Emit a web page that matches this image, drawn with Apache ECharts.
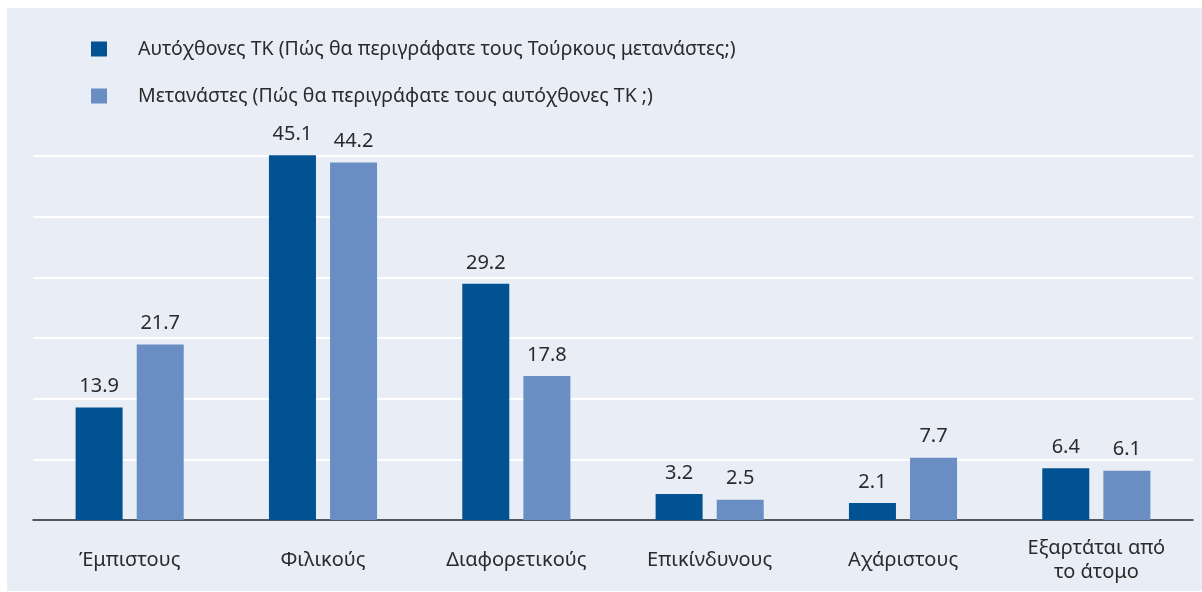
<!DOCTYPE html>
<html>
<head>
<meta charset="utf-8">
<script src="https://cdn.jsdelivr.net/npm/echarts@6/dist/echarts.min.js"></script>
<style>
  html, body { margin: 0; padding: 0; background: #fff; }
  #chart { width: 1202px; height: 592px; }
</style>
</head>
<body>
<div id="chart"></div>
<script>
// categories and values
const categories = ['Έμπιστους', 'Φιλικούς', 'Διαφορετικούς', 'Επικίνδυνους', 'Αχάριστους', 'Εξαρτάται από\nτο άτομο']
const seriesNames = [
  'Αυτόχθονες ΤΚ (Πώς θα περιγράφατε τους Τούρκους μετανάστες;)',
  'Μετανάστες (Πώς θα περιγράφατε τους αυτόχθονες ΤΚ ;)',
]
const natives = [13.9, 45.1, 29.2, 3.2, 2.1, 6.4]
const migrants = [21.7, 44.2, 17.8, 2.5, 7.7, 6.1]

const font = '"Noto Sans", "Open Sans", sans-serif'
const chart = echarts.init(document.getElementById('chart'))

const labelOpt = {
  show: true,
  position: 'top',
  distance: 11,
  color: '#2b2b2b',
  fontSize: 20,
  fontFamily: font,
  formatter: (p) => p.value.toFixed(1),
}

chart.setOption({
  backgroundColor: '#ffffff',
  animation: false,
  graphic: [
    {
      type: 'rect',
      z: -10,
      shape: { x: 7, y: 8, width: 1195, height: 583 },
      style: { fill: '#e9edf6' },
    },
  ],
  legend: {
    orient: 'vertical',
    left: 86,
    top: 34,
    itemWidth: 16,
    itemHeight: 15,
    itemGap: 27,
    icon: 'rect',
    textStyle: {
      color: '#2b2b2b',
      fontSize: 19.5,
      fontFamily: font,
      padding: [0, 0, 0, 26],
    },
    data: seriesNames,
  },
  grid: { left: 33, right: 9, top: 156, bottom: 72 },
  xAxis: {
    type: 'category',
    data: categories,
    axisLine: { lineStyle: { color: '#222', width: 1.5 } },
    axisTick: { show: false },
    axisLabel: {
      color: '#2b2b2b',
      fontSize: 20,
      fontFamily: font,
      margin: 40,
      lineHeight: 24,
      verticalAlign: 'middle',
    },
  },
  yAxis: {
    type: 'value',
    min: 0,
    max: 45,
    interval: 7.5,
    axisLabel: { show: false },
    axisLine: { show: false },
    axisTick: { show: false },
    splitLine: { lineStyle: { color: '#ffffff', width: 2 } },
  },
  series: [
    {
      name: seriesNames[0],
      type: 'bar',
      data: natives,
      barWidth: 47,
      barGap: '30%',
      clip: false,
      itemStyle: { color: '#005293' },
      label: labelOpt,
    },
    {
      name: seriesNames[1],
      type: 'bar',
      data: migrants,
      barWidth: 47,
      clip: false,
      itemStyle: { color: '#6a8ec3' },
      label: labelOpt,
    },
  ],
})
</script>
</body>
</html>
